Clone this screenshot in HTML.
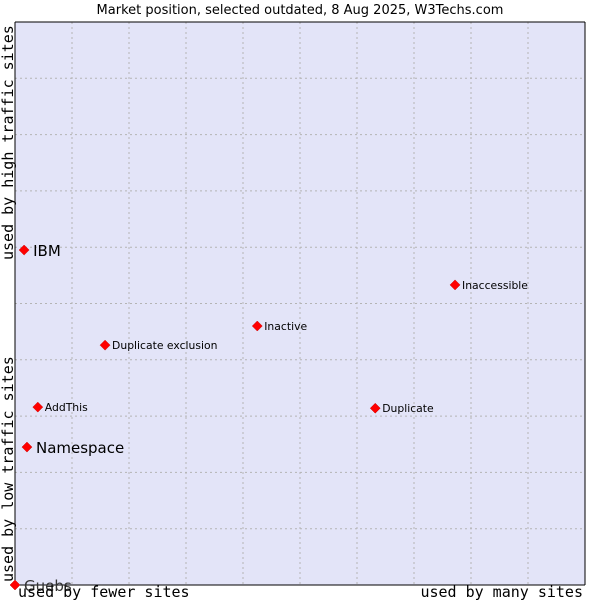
<!DOCTYPE html>
<html><head><meta charset="utf-8"><style>
body{margin:0;background:#fff;width:600px;height:600px;overflow:hidden}
svg text{font-family:"DejaVu Sans","Liberation Sans",sans-serif}
.mono{font-family:"DejaVu Sans Mono","Liberation Mono",monospace}
</style></head><body>
<svg id="chart" width="600" height="600">
<text x="300" y="14" text-anchor="middle" font-size="13" fill="#000">Market position, selected outdated, 8 Aug 2025, W3Techs.com</text>
<rect x="15" y="22" width="570" height="563" fill="#e3e4f8" stroke="none"/>
<g id="grid"></g>
<line x1="15" y1="22" x2="15" y2="585" stroke="#000"/>
<line x1="15" y1="585" x2="585" y2="585" stroke="#000"/>
<line x1="15" y1="22" x2="585" y2="22" stroke="#000"/>
<line x1="585" y1="22" x2="585" y2="585" stroke="#000"/>
<g id="points"></g>
<text class="mono" x="18" y="597" font-size="15">used by fewer sites</text>
<text class="mono" x="583" y="597" font-size="15" text-anchor="end">used by many sites</text>
<text class="mono" transform="translate(13,582) rotate(-90)" font-size="15">used by low traffic sites</text>
<text class="mono" transform="translate(13,260) rotate(-90)" font-size="15">used by high traffic sites</text>
</svg>
<script>
const names=["Guebs","IBM","Namespace","AddThis","Duplicate exclusion","Inactive","Inaccessible","Duplicate"];
const xVals=[0,0.16,0.21,0.4,1.58,4.25,7.72,6.32];
const yVals=[0,5.95,2.45,3.16,4.26,4.6,5.33,3.14];
const big=[true,true,true,false,false,false,false,false];
const NS="http://www.w3.org/2000/svg";
const X=v=>15+v*57, Y=v=>585-v*56.3;
const g=document.getElementById('grid');
for(let i=1;i<10;i++){
 const l=document.createElementNS(NS,'line');
 
 
 l.setAttribute('x1',X(i));l.setAttribute('x2',X(i));l.setAttribute('y1',22);l.setAttribute('y2',585);
 l.setAttribute('stroke','#b4b4b4');l.setAttribute('stroke-dasharray','2,3');g.appendChild(l);
 const h=document.createElementNS(NS,'line');
 
 
 h.setAttribute('x1',15);h.setAttribute('x2',585);h.setAttribute('y1',Y(i));h.setAttribute('y2',Y(i));
 h.setAttribute('stroke','#b4b4b4');h.setAttribute('stroke-dasharray','2,3');g.appendChild(h);
}
const p=document.getElementById('points');
names.forEach((n,i)=>{
 const x=X(xVals[i]),y=Y(yVals[i]);
 const d=document.createElementNS(NS,'path');
 
 
 d.setAttribute('d',`M${x} ${y-5}L${x+5} ${y}L${x} ${y+5}L${x-5} ${y}Z`);
 d.setAttribute('fill','#f00');d.setAttribute('stroke','#c00');d.setAttribute('stroke-width','0.5');d.setAttribute('stroke-linejoin','round');p.appendChild(d);
 const t=document.createElementNS(NS,'text');
 
 
 t.setAttribute('x',x+(big[i]?9:7));t.setAttribute('y',y+(big[i]?6:4));
 t.setAttribute('font-size',big[i]?15:10.8);
 if(big[i]&&i===0)t.setAttribute('fill','#333');
 t.textContent=n;p.appendChild(t);
});
</script>
</body></html>
